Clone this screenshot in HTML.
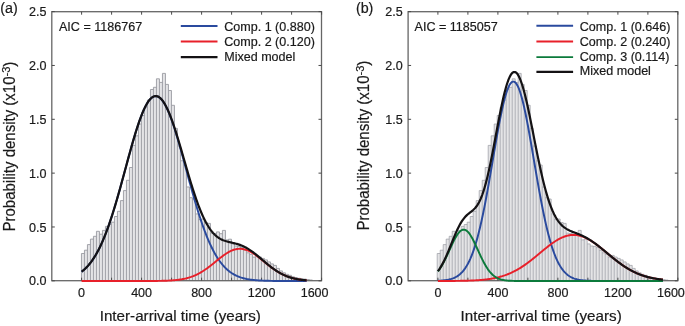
<!DOCTYPE html>
<html><head><meta charset="utf-8"><style>
html,body{margin:0;padding:0;background:#fff;}
svg{display:block;will-change:transform;}
text{font-family:"Liberation Sans",sans-serif;fill:#1a1a1a;stroke:#1a1a1a;stroke-width:0.2px;}
.t{font-size:12.55px;}
.ax{font-size:15px;}
.pl{font-size:14.3px;}
.bars rect{fill:#e4e4e6;stroke:#9c9da4;stroke-width:0.9;}
</style></head><body>
<svg width="685" height="326" viewBox="0 0 685 326">
<g class="bars"><path d="M81.45,253.50h3V280.6h-3zM84.45,250.20h3V280.6h-3zM87.45,244.60h3V280.6h-3zM90.45,239.10h3V280.6h-3zM93.45,236.30h3V280.6h-3zM96.45,231.30h3V280.6h-3zM99.45,234.20h3V280.6h-3zM102.45,230.40h3V280.6h-3zM105.45,226.40h3V280.6h-3zM108.45,224.50h3V280.6h-3zM111.45,222.20h3V280.6h-3zM114.45,216.50h3V280.6h-3zM117.45,211.30h3V280.6h-3zM120.45,200.60h3V280.6h-3zM123.45,190.60h3V280.6h-3zM126.45,180.30h3V280.6h-3zM129.45,167.50h3V280.6h-3zM132.45,145.40h3V280.6h-3zM135.45,135.80h3V280.6h-3zM138.45,124.00h3V280.6h-3zM141.45,115.50h3V280.6h-3zM144.45,107.30h3V280.6h-3zM147.45,100.00h3V280.6h-3zM150.45,89.50h3V280.6h-3zM153.45,87.30h3V280.6h-3zM156.45,78.80h3V280.6h-3zM159.45,82.40h3V280.6h-3zM162.45,73.40h3V280.6h-3zM165.45,84.40h3V280.6h-3zM168.45,90.50h3V280.6h-3zM171.45,105.30h3V280.6h-3zM174.45,128.40h3V280.6h-3zM177.45,145.98h3V280.6h-3zM180.45,160.78h3V280.6h-3zM183.45,165.00h3V280.6h-3zM186.45,186.98h3V280.6h-3zM189.45,197.71h3V280.6h-3zM192.45,199.00h3V280.6h-3zM195.45,213.93h3V280.6h-3zM198.45,219.61h3V280.6h-3zM201.45,219.00h3V280.6h-3zM204.45,222.50h3V280.6h-3zM207.45,223.40h3V280.6h-3zM210.45,233.09h3V280.6h-3zM213.45,233.50h3V280.6h-3zM216.45,231.90h3V280.6h-3zM219.45,233.70h3V280.6h-3zM222.45,230.40h3V280.6h-3zM225.45,239.90h3V280.6h-3zM228.45,239.20h3V280.6h-3zM231.45,243.90h3V280.6h-3zM234.45,246.00h3V280.6h-3zM237.45,246.40h3V280.6h-3zM240.45,247.60h3V280.6h-3zM243.45,250.30h3V280.6h-3zM246.45,252.80h3V280.6h-3zM249.45,254.30h3V280.6h-3zM252.45,257.12h3V280.6h-3zM255.45,255.40h3V280.6h-3zM258.45,257.00h3V280.6h-3zM261.45,258.40h3V280.6h-3zM264.45,259.90h3V280.6h-3zM267.45,261.90h3V280.6h-3zM270.45,263.90h3V280.6h-3zM273.45,265.40h3V280.6h-3zM276.45,268.40h3V280.6h-3zM279.45,270.90h3V280.6h-3zM282.45,272.80h3V280.6h-3zM285.45,274.30h3V280.6h-3zM288.45,275.30h3V280.6h-3zM291.45,276.80h3V280.6h-3zM294.45,277.60h3V280.6h-3zM297.45,278.30h3V280.6h-3zM300.45,278.80h3V280.6h-3zM303.45,279.10h3V280.6h-3zM306.45,279.60h3V280.6h-3zM309.45,280.00h3V280.6h-3z" fill="#e4e4e6"/>
<path d="M81.45,280.6V253.50M81.45,253.50h3M84.45,280.6V250.20M84.45,250.20h3M87.45,280.6V244.60M87.45,244.60h3M90.45,280.6V239.10M90.45,239.10h3M93.45,280.6V236.30M93.45,236.30h3M96.45,280.6V231.30M96.45,231.30h3M99.45,280.6V231.30M99.45,234.20h3M102.45,280.6V230.40M102.45,230.40h3M105.45,280.6V226.40M105.45,226.40h3M108.45,280.6V224.50M108.45,224.50h3M111.45,280.6V222.20M111.45,222.20h3M114.45,280.6V216.50M114.45,216.50h3M117.45,280.6V211.30M117.45,211.30h3M120.45,280.6V200.60M120.45,200.60h3M123.45,280.6V190.60M123.45,190.60h3M126.45,280.6V180.30M126.45,180.30h3M129.45,280.6V167.50M129.45,167.50h3M132.45,280.6V145.40M132.45,145.40h3M135.45,280.6V135.80M135.45,135.80h3M138.45,280.6V124.00M138.45,124.00h3M141.45,280.6V115.50M141.45,115.50h3M144.45,280.6V107.30M144.45,107.30h3M147.45,280.6V100.00M147.45,100.00h3M150.45,280.6V89.50M150.45,89.50h3M153.45,280.6V87.30M153.45,87.30h3M156.45,280.6V78.80M156.45,78.80h3M159.45,280.6V78.80M159.45,82.40h3M162.45,280.6V73.40M162.45,73.40h3M165.45,280.6V73.40M165.45,84.40h3M168.45,280.6V84.40M168.45,90.50h3M171.45,280.6V90.50M171.45,105.30h3M174.45,280.6V105.30M174.45,128.40h3M177.45,280.6V128.40M177.45,145.98h3M180.45,280.6V145.98M180.45,160.78h3M183.45,280.6V160.78M183.45,165.00h3M186.45,280.6V165.00M186.45,186.98h3M189.45,280.6V186.98M189.45,197.71h3M192.45,280.6V197.71M192.45,199.00h3M195.45,280.6V199.00M195.45,213.93h3M198.45,280.6V213.93M198.45,219.61h3M201.45,280.6V219.00M201.45,219.00h3M204.45,280.6V219.00M204.45,222.50h3M207.45,280.6V222.50M207.45,223.40h3M210.45,280.6V223.40M210.45,233.09h3M213.45,280.6V233.09M213.45,233.50h3M216.45,280.6V231.90M216.45,231.90h3M219.45,280.6V231.90M219.45,233.70h3M222.45,280.6V230.40M222.45,230.40h3M225.45,280.6V230.40M225.45,239.90h3M228.45,280.6V239.20M228.45,239.20h3M231.45,280.6V239.20M231.45,243.90h3M234.45,280.6V243.90M234.45,246.00h3M237.45,280.6V246.00M237.45,246.40h3M240.45,280.6V246.40M240.45,247.60h3M243.45,280.6V247.60M243.45,250.30h3M246.45,280.6V250.30M246.45,252.80h3M249.45,280.6V252.80M249.45,254.30h3M252.45,280.6V254.30M252.45,257.12h3M255.45,280.6V255.40M255.45,255.40h3M258.45,280.6V255.40M258.45,257.00h3M261.45,280.6V257.00M261.45,258.40h3M264.45,280.6V258.40M264.45,259.90h3M267.45,280.6V259.90M267.45,261.90h3M270.45,280.6V261.90M270.45,263.90h3M273.45,280.6V263.90M273.45,265.40h3M276.45,280.6V265.40M276.45,268.40h3M279.45,280.6V268.40M279.45,270.90h3M282.45,280.6V270.90M282.45,272.80h3M285.45,280.6V272.80M285.45,274.30h3M288.45,280.6V274.30M288.45,275.30h3M291.45,280.6V275.30M291.45,276.80h3M294.45,280.6V276.80M294.45,277.60h3M297.45,280.6V277.60M297.45,278.30h3M300.45,280.6V278.30M300.45,278.80h3M303.45,280.6V278.80M303.45,279.10h3M306.45,280.6V279.10M306.45,279.60h3M309.45,280.6V279.60M309.45,280.00h3M312.45,280.6V280.00" fill="none" stroke="#9a9ba2" stroke-width="0.9"/></g>
<rect x="51.8" y="11.7" width="269.7" height="269.0" fill="none" stroke="#666" stroke-width="1.3"/>
<path d="M81.60,280.7 V277.7M81.60,11.7 V14.7 M111.60,280.7 V277.7M111.60,11.7 V14.7 M141.60,280.7 V277.7M141.60,11.7 V14.7 M171.60,280.7 V277.7M171.60,11.7 V14.7 M201.60,280.7 V277.7M201.60,11.7 V14.7 M231.60,280.7 V277.7M231.60,11.7 V14.7 M261.60,280.7 V277.7M261.60,11.7 V14.7 M291.60,280.7 V277.7M291.60,11.7 V14.7 M321.60,280.7 V277.7M321.60,11.7 V14.7 M51.8,280.80 H54.8M321.5,280.80 H318.5 M51.8,226.97 H54.8M321.5,226.97 H318.5 M51.8,173.13 H54.8M321.5,173.13 H318.5 M51.8,119.30 H54.8M321.5,119.30 H318.5 M51.8,65.46 H54.8M321.5,65.46 H318.5 M51.8,11.62 H54.8M321.5,11.62 H318.5" stroke="#4a4a4a" stroke-width="1" fill="none"/>
<path d="M81.60,271.71 L82.35,271.13 L83.10,270.52 L83.85,269.89 L84.60,269.22 L85.35,268.52 L86.10,267.78 L86.85,267.01 L87.60,266.21 L88.35,265.37 L89.10,264.49 L89.85,263.57 L90.60,262.61 L91.35,261.62 L92.10,260.58 L92.85,259.49 L93.60,258.37 L94.35,257.20 L95.10,255.98 L95.85,254.72 L96.60,253.41 L97.35,252.05 L98.10,250.65 L98.85,249.20 L99.60,247.70 L100.35,246.15 L101.10,244.54 L101.85,242.89 L102.60,241.19 L103.35,239.44 L104.10,237.64 L104.85,235.78 L105.60,233.88 L106.35,231.93 L107.10,229.92 L107.85,227.87 L108.60,225.77 L109.35,223.62 L110.10,221.43 L110.85,219.18 L111.60,216.90 L112.35,214.56 L113.10,212.19 L113.85,209.78 L114.60,207.32 L115.35,204.83 L116.10,202.30 L116.85,199.74 L117.60,197.14 L118.35,194.52 L119.10,191.87 L119.85,189.19 L120.60,186.49 L121.35,183.77 L122.10,181.03 L122.85,178.28 L123.60,175.52 L124.35,172.75 L125.10,169.98 L125.85,167.20 L126.60,164.43 L127.35,161.66 L128.10,158.90 L128.85,156.16 L129.60,153.43 L130.35,150.72 L131.10,148.03 L131.85,145.38 L132.60,142.75 L133.35,140.16 L134.10,137.61 L134.85,135.10 L135.60,132.64 L136.35,130.23 L137.10,127.87 L137.85,125.58 L138.60,123.34 L139.35,121.17 L140.10,119.08 L140.85,117.05 L141.60,115.10 L142.35,113.23 L143.10,111.44 L143.85,109.74 L144.60,108.13 L145.35,106.60 L146.10,105.18 L146.85,103.85 L147.60,102.62 L148.35,101.49 L149.10,100.46 L149.85,99.54 L150.60,98.73 L151.35,98.02 L152.10,97.43 L152.85,96.94 L153.60,96.57 L154.35,96.31 L155.10,96.16 L155.85,96.13 L156.60,96.21 L157.35,96.40 L158.10,96.71 L158.85,97.12 L159.60,97.65 L160.35,98.29 L161.10,99.04 L161.85,99.90 L162.60,100.86 L163.35,101.93 L164.10,103.10 L164.85,104.37 L165.60,105.74 L166.35,107.20 L167.10,108.76 L167.85,110.41 L168.60,112.15 L169.35,113.97 L170.10,115.87 L170.85,117.85 L171.60,119.91 L172.35,122.03 L173.10,124.23 L173.85,126.49 L174.60,128.81 L175.35,131.19 L176.10,133.62 L176.85,136.10 L177.60,138.62 L178.35,141.19 L179.10,143.80 L179.85,146.44 L180.60,149.11 L181.35,151.80 L182.10,154.52 L182.85,157.25 L183.60,160.01 L184.35,162.77 L185.10,165.54 L185.85,168.31 L186.60,171.09 L187.35,173.86 L188.10,176.63 L188.85,179.39 L189.60,182.13 L190.35,184.86 L191.10,187.57 L191.85,190.26 L192.60,192.93 L193.35,195.57 L194.10,198.18 L194.85,200.77 L195.60,203.32 L196.35,205.83 L197.10,208.31 L197.85,210.75 L198.60,213.15 L199.35,215.50 L200.10,217.82 L200.85,220.09 L201.60,222.31 L202.35,224.49 L203.10,226.62 L203.85,228.70 L204.60,230.73 L205.35,232.71 L206.10,234.65 L206.85,236.53 L207.60,238.36 L208.35,240.15 L209.10,241.88 L209.85,243.56 L210.60,245.19 L211.35,246.77 L212.10,248.30 L212.85,249.78 L213.60,251.22 L214.35,252.60 L215.10,253.94 L215.85,255.23 L216.60,256.47 L217.35,257.67 L218.10,258.82 L218.85,259.93 L219.60,261.00 L220.35,262.02 L221.10,263.00 L221.85,263.94 L222.60,264.85 L223.35,265.71 L224.10,266.54 L224.85,267.33 L225.60,268.08 L226.35,268.80 L227.10,269.49 L227.85,270.14 L228.60,270.77 L229.35,271.36 L230.10,271.93 L230.85,272.47 L231.60,272.98 L232.35,273.46 L233.10,273.92 L233.85,274.36 L234.60,274.77 L235.35,275.16 L236.10,275.53 L236.85,275.88 L237.60,276.21 L238.35,276.52 L239.10,276.81 L239.85,277.09 L240.60,277.35 L241.35,277.60 L242.10,277.83 L242.85,278.05 L243.60,278.25 L244.35,278.44 L245.10,278.62 L245.85,278.79 L246.60,278.95 L247.35,279.09 L248.10,279.23 L248.85,279.36 L249.60,279.48 L250.35,279.59 L251.10,279.70 L251.85,279.80 L252.60,279.89 L253.35,279.97 L254.10,280.05 L254.85,280.13 L255.60,280.19 L256.35,280.26 L257.10,280.32 L257.85,280.37 L258.60,280.42 L259.35,280.47 L260.10,280.51 L260.85,280.55 L261.60,280.59 L262.35,280.62 L263.10,280.65 L263.85,280.68 L264.60,280.71 L265.35,280.74 L266.10,280.76 L266.85,280.78 L267.60,280.80 L268.35,280.82 L269.10,280.83 L269.85,280.85 L270.60,280.86 L271.35,280.87 L272.10,280.88 L272.85,280.90 L273.60,280.90 L274.35,280.91 L275.10,280.92 L275.85,280.93 L276.60,280.94 L277.35,280.94 L278.10,280.95 L278.85,280.95 L279.60,280.96 L280.35,280.96 L281.10,280.96 L281.85,280.97 L282.60,280.97 L283.35,280.97 L284.10,280.98 L284.85,280.98 L285.60,280.98 L286.35,280.98 L287.10,280.98 L287.85,280.99 L288.60,280.99 L289.35,280.99 L290.10,280.99 L290.85,280.99 L291.60,280.99 L292.35,280.99 L293.10,280.99 L293.85,280.99 L294.60,280.99 L295.35,281.00 L296.10,281.00 L296.85,281.00 L297.60,281.00 L298.35,281.00 L299.10,281.00 L299.85,281.00 L300.60,281.00 L301.35,281.00 L302.10,281.00 L302.85,281.00 L303.60,281.00 L304.35,281.00 L305.10,281.00 L305.85,281.00 L306.60,281.00" stroke="#2a4a9e" stroke-width="1.95" fill="none"/>
<path d="M81.60,281.00 L82.35,281.00 L83.10,281.00 L83.85,281.00 L84.60,281.00 L85.35,281.00 L86.10,281.00 L86.85,281.00 L87.60,281.00 L88.35,281.00 L89.10,281.00 L89.85,281.00 L90.60,281.00 L91.35,281.00 L92.10,281.00 L92.85,281.00 L93.60,281.00 L94.35,281.00 L95.10,281.00 L95.85,281.00 L96.60,281.00 L97.35,281.00 L98.10,281.00 L98.85,281.00 L99.60,281.00 L100.35,281.00 L101.10,281.00 L101.85,281.00 L102.60,281.00 L103.35,281.00 L104.10,281.00 L104.85,281.00 L105.60,281.00 L106.35,281.00 L107.10,281.00 L107.85,281.00 L108.60,281.00 L109.35,281.00 L110.10,281.00 L110.85,281.00 L111.60,281.00 L112.35,281.00 L113.10,281.00 L113.85,281.00 L114.60,281.00 L115.35,281.00 L116.10,281.00 L116.85,281.00 L117.60,281.00 L118.35,281.00 L119.10,281.00 L119.85,281.00 L120.60,281.00 L121.35,281.00 L122.10,281.00 L122.85,281.00 L123.60,281.00 L124.35,281.00 L125.10,281.00 L125.85,281.00 L126.60,281.00 L127.35,281.00 L128.10,281.00 L128.85,281.00 L129.60,281.00 L130.35,281.00 L131.10,281.00 L131.85,281.00 L132.60,281.00 L133.35,281.00 L134.10,281.00 L134.85,281.00 L135.60,281.00 L136.35,281.00 L137.10,281.00 L137.85,281.00 L138.60,281.00 L139.35,280.99 L140.10,280.99 L140.85,280.99 L141.60,280.99 L142.35,280.99 L143.10,280.99 L143.85,280.99 L144.60,280.99 L145.35,280.99 L146.10,280.98 L146.85,280.98 L147.60,280.98 L148.35,280.98 L149.10,280.97 L149.85,280.97 L150.60,280.97 L151.35,280.96 L152.10,280.96 L152.85,280.95 L153.60,280.95 L154.35,280.94 L155.10,280.94 L155.85,280.93 L156.60,280.92 L157.35,280.91 L158.10,280.90 L158.85,280.89 L159.60,280.88 L160.35,280.87 L161.10,280.85 L161.85,280.84 L162.60,280.82 L163.35,280.80 L164.10,280.78 L164.85,280.76 L165.60,280.73 L166.35,280.70 L167.10,280.67 L167.85,280.64 L168.60,280.61 L169.35,280.57 L170.10,280.53 L170.85,280.48 L171.60,280.44 L172.35,280.38 L173.10,280.33 L173.85,280.27 L174.60,280.20 L175.35,280.13 L176.10,280.05 L176.85,279.97 L177.60,279.89 L178.35,279.79 L179.10,279.69 L179.85,279.58 L180.60,279.47 L181.35,279.35 L182.10,279.22 L182.85,279.08 L183.60,278.93 L184.35,278.78 L185.10,278.61 L185.85,278.44 L186.60,278.25 L187.35,278.06 L188.10,277.85 L188.85,277.63 L189.60,277.40 L190.35,277.16 L191.10,276.91 L191.85,276.64 L192.60,276.36 L193.35,276.07 L194.10,275.76 L194.85,275.45 L195.60,275.11 L196.35,274.77 L197.10,274.41 L197.85,274.03 L198.60,273.64 L199.35,273.24 L200.10,272.83 L200.85,272.40 L201.60,271.95 L202.35,271.50 L203.10,271.02 L203.85,270.54 L204.60,270.04 L205.35,269.54 L206.10,269.01 L206.85,268.48 L207.60,267.94 L208.35,267.39 L209.10,266.82 L209.85,266.25 L210.60,265.67 L211.35,265.08 L212.10,264.49 L212.85,263.89 L213.60,263.29 L214.35,262.68 L215.10,262.07 L215.85,261.46 L216.60,260.85 L217.35,260.24 L218.10,259.63 L218.85,259.03 L219.60,258.43 L220.35,257.84 L221.10,257.26 L221.85,256.68 L222.60,256.12 L223.35,255.57 L224.10,255.03 L224.85,254.50 L225.60,253.99 L226.35,253.50 L227.10,253.02 L227.85,252.57 L228.60,252.14 L229.35,251.72 L230.10,251.34 L230.85,250.97 L231.60,250.63 L232.35,250.32 L233.10,250.03 L233.85,249.78 L234.60,249.55 L235.35,249.35 L236.10,249.18 L236.85,249.04 L237.60,248.93 L238.35,248.85 L239.10,248.80 L239.85,248.78 L240.60,248.80 L241.35,248.85 L242.10,248.93 L242.85,249.04 L243.60,249.18 L244.35,249.35 L245.10,249.55 L245.85,249.78 L246.60,250.03 L247.35,250.32 L248.10,250.63 L248.85,250.97 L249.60,251.34 L250.35,251.72 L251.10,252.14 L251.85,252.57 L252.60,253.02 L253.35,253.50 L254.10,253.99 L254.85,254.50 L255.60,255.03 L256.35,255.57 L257.10,256.12 L257.85,256.68 L258.60,257.26 L259.35,257.84 L260.10,258.43 L260.85,259.03 L261.60,259.63 L262.35,260.24 L263.10,260.85 L263.85,261.46 L264.60,262.07 L265.35,262.68 L266.10,263.29 L266.85,263.89 L267.60,264.49 L268.35,265.08 L269.10,265.67 L269.85,266.25 L270.60,266.82 L271.35,267.39 L272.10,267.94 L272.85,268.48 L273.60,269.01 L274.35,269.54 L275.10,270.04 L275.85,270.54 L276.60,271.02 L277.35,271.50 L278.10,271.95 L278.85,272.40 L279.60,272.83 L280.35,273.24 L281.10,273.64 L281.85,274.03 L282.60,274.41 L283.35,274.77 L284.10,275.11 L284.85,275.45 L285.60,275.76 L286.35,276.07 L287.10,276.36 L287.85,276.64 L288.60,276.91 L289.35,277.16 L290.10,277.40 L290.85,277.63 L291.60,277.85 L292.35,278.06 L293.10,278.25 L293.85,278.44 L294.60,278.61 L295.35,278.78 L296.10,278.93 L296.85,279.08 L297.60,279.22 L298.35,279.35 L299.10,279.47 L299.85,279.58 L300.60,279.69 L301.35,279.79 L302.10,279.89 L302.85,279.97 L303.60,280.05 L304.35,280.13 L305.10,280.20 L305.85,280.27 L306.60,280.33" stroke="#e8202a" stroke-width="1.95" fill="none"/>
<path d="M81.60,271.71 L82.35,271.13 L83.10,270.52 L83.85,269.89 L84.60,269.22 L85.35,268.52 L86.10,267.78 L86.85,267.01 L87.60,266.21 L88.35,265.37 L89.10,264.49 L89.85,263.57 L90.60,262.61 L91.35,261.62 L92.10,260.58 L92.85,259.49 L93.60,258.37 L94.35,257.20 L95.10,255.98 L95.85,254.72 L96.60,253.41 L97.35,252.05 L98.10,250.65 L98.85,249.20 L99.60,247.70 L100.35,246.15 L101.10,244.54 L101.85,242.89 L102.60,241.19 L103.35,239.44 L104.10,237.64 L104.85,235.78 L105.60,233.88 L106.35,231.93 L107.10,229.92 L107.85,227.87 L108.60,225.77 L109.35,223.62 L110.10,221.43 L110.85,219.18 L111.60,216.90 L112.35,214.56 L113.10,212.19 L113.85,209.78 L114.60,207.32 L115.35,204.83 L116.10,202.30 L116.85,199.74 L117.60,197.14 L118.35,194.52 L119.10,191.87 L119.85,189.19 L120.60,186.49 L121.35,183.77 L122.10,181.03 L122.85,178.28 L123.60,175.52 L124.35,172.75 L125.10,169.98 L125.85,167.20 L126.60,164.43 L127.35,161.66 L128.10,158.90 L128.85,156.16 L129.60,153.43 L130.35,150.72 L131.10,148.03 L131.85,145.38 L132.60,142.75 L133.35,140.16 L134.10,137.61 L134.85,135.10 L135.60,132.64 L136.35,130.23 L137.10,127.87 L137.85,125.57 L138.60,123.34 L139.35,121.17 L140.10,119.07 L140.85,117.04 L141.60,115.09 L142.35,113.22 L143.10,111.43 L143.85,109.73 L144.60,108.11 L145.35,106.59 L146.10,105.16 L146.85,103.83 L147.60,102.60 L148.35,101.46 L149.10,100.44 L149.85,99.51 L150.60,98.70 L151.35,97.99 L152.10,97.39 L152.85,96.90 L153.60,96.52 L154.35,96.25 L155.10,96.10 L155.85,96.06 L156.60,96.13 L157.35,96.31 L158.10,96.61 L158.85,97.02 L159.60,97.53 L160.35,98.16 L161.10,98.89 L161.85,99.73 L162.60,100.68 L163.35,101.73 L164.10,102.88 L164.85,104.12 L165.60,105.47 L166.35,106.91 L167.10,108.43 L167.85,110.05 L168.60,111.75 L169.35,113.54 L170.10,115.40 L170.85,117.33 L171.60,119.34 L172.35,121.42 L173.10,123.56 L173.85,125.76 L174.60,128.01 L175.35,130.32 L176.10,132.67 L176.85,135.07 L177.60,137.51 L178.35,139.98 L179.10,142.49 L179.85,145.02 L180.60,147.58 L181.35,150.15 L182.10,152.74 L182.85,155.34 L183.60,157.94 L184.35,160.55 L185.10,163.15 L185.85,165.75 L186.60,168.34 L187.35,170.92 L188.10,173.48 L188.85,176.02 L189.60,178.53 L190.35,181.02 L191.10,183.48 L191.85,185.90 L192.60,188.29 L193.35,190.64 L194.10,192.95 L194.85,195.21 L195.60,197.43 L196.35,199.60 L197.10,201.71 L197.85,203.78 L198.60,205.79 L199.35,207.75 L200.10,209.64 L200.85,211.48 L201.60,213.26 L202.35,214.98 L203.10,216.64 L203.85,218.24 L204.60,219.78 L205.35,221.25 L206.10,222.66 L206.85,224.01 L207.60,225.30 L208.35,226.53 L209.10,227.70 L209.85,228.81 L210.60,229.86 L211.35,230.85 L212.10,231.79 L212.85,232.68 L213.60,233.50 L214.35,234.28 L215.10,235.01 L215.85,235.69 L216.60,236.32 L217.35,236.91 L218.10,237.46 L218.85,237.96 L219.60,238.43 L220.35,238.86 L221.10,239.26 L221.85,239.63 L222.60,239.96 L223.35,240.27 L224.10,240.56 L224.85,240.83 L225.60,241.07 L226.35,241.30 L227.10,241.51 L227.85,241.71 L228.60,241.91 L229.35,242.09 L230.10,242.27 L230.85,242.44 L231.60,242.61 L232.35,242.78 L233.10,242.96 L233.85,243.13 L234.60,243.32 L235.35,243.51 L236.10,243.71 L236.85,243.91 L237.60,244.14 L238.35,244.37 L239.10,244.61 L239.85,244.88 L240.60,245.15 L241.35,245.44 L242.10,245.75 L242.85,246.08 L243.60,246.42 L244.35,246.79 L245.10,247.17 L245.85,247.56 L246.60,247.98 L247.35,248.41 L248.10,248.86 L248.85,249.33 L249.60,249.82 L250.35,250.32 L251.10,250.84 L251.85,251.37 L252.60,251.91 L253.35,252.47 L254.10,253.04 L254.85,253.63 L255.60,254.22 L256.35,254.82 L257.10,255.43 L257.85,256.05 L258.60,256.68 L259.35,257.31 L260.10,257.94 L260.85,258.58 L261.60,259.22 L262.35,259.86 L263.10,260.50 L263.85,261.14 L264.60,261.78 L265.35,262.41 L266.10,263.04 L266.85,263.67 L267.60,264.29 L268.35,264.90 L269.10,265.50 L269.85,266.10 L270.60,266.68 L271.35,267.26 L272.10,267.82 L272.85,268.38 L273.60,268.92 L274.35,269.45 L275.10,269.97 L275.85,270.47 L276.60,270.96 L277.35,271.44 L278.10,271.90 L278.85,272.35 L279.60,272.78 L280.35,273.20 L281.10,273.61 L281.85,274.00 L282.60,274.38 L283.35,274.74 L284.10,275.09 L284.85,275.42 L285.60,275.75 L286.35,276.05 L287.10,276.35 L287.85,276.63 L288.60,276.89 L289.35,277.15 L290.10,277.39 L290.85,277.62 L291.60,277.84 L292.35,278.05 L293.10,278.25 L293.85,278.43 L294.60,278.61 L295.35,278.77 L296.10,278.93 L296.85,279.08 L297.60,279.22 L298.35,279.35 L299.10,279.47 L299.85,279.58 L300.60,279.69 L301.35,279.79 L302.10,279.88 L302.85,279.97 L303.60,280.05 L304.35,280.13 L305.10,280.20 L305.85,280.26 L306.60,280.33" stroke="#141214" stroke-width="2.2" fill="none"/>
<text transform="translate(81.60,297.20) scale(1,1.02)" class="t" text-anchor="middle">0</text>
<text transform="translate(141.60,297.20) scale(1,1.02)" class="t" text-anchor="middle">400</text>
<text transform="translate(201.60,297.20) scale(1,1.02)" class="t" text-anchor="middle">800</text>
<text transform="translate(261.60,297.20) scale(1,1.02)" class="t" text-anchor="middle">1200</text>
<text transform="translate(314.60,297.20) scale(1,1.02)" class="t" text-anchor="middle">1600</text>
<text transform="translate(46.50,285.40) scale(1,1.04)" class="t" text-anchor="end">0.0</text>
<text transform="translate(46.50,231.56) scale(1,1.04)" class="t" text-anchor="end">0.5</text>
<text transform="translate(46.50,177.73) scale(1,1.04)" class="t" text-anchor="end">1.0</text>
<text transform="translate(46.50,123.90) scale(1,1.04)" class="t" text-anchor="end">1.5</text>
<text transform="translate(46.50,70.06) scale(1,1.04)" class="t" text-anchor="end">2.0</text>
<text transform="translate(46.50,16.23) scale(1,1.04)" class="t" text-anchor="end">2.5</text>
<text transform="translate(0.30,12.60) scale(1,1.04)" class="pl">(a)</text>
<text transform="translate(59.00,30.60) scale(1,1.04)" class="t">AIC = 1186767</text>
<path d="M180.80,25.9 H217.50" stroke="#2a4a9e" stroke-width="1.95"/>
<text transform="translate(224.20,30.60) scale(1,1.04)" class="t">Comp. 1 (0.880)</text>
<path d="M180.80,41.5 H217.50" stroke="#e8202a" stroke-width="1.95"/>
<text transform="translate(224.20,46.10) scale(1,1.04)" class="t">Comp. 2 (0.120)</text>
<path d="M180.80,57.1 H217.50" stroke="#141214" stroke-width="2.2"/>
<text transform="translate(224.20,60.70) scale(1,1.04)" class="t">Mixed model</text>
<text transform="translate(99.70,321.00) scale(1,1.02)" class="ax" style="font-size:15.2px">Inter-arrival time (years)</text>
<text transform="translate(14.5,146.6) rotate(-90) scale(1,1.04)" text-anchor="middle" class="ax">Probability density (x10<tspan dy="-4.3" font-size="11">-3</tspan><tspan dy="4.3">)</tspan></text>
<g class="bars"><path d="M437.20,253.50h3V280.6h-3zM440.20,250.20h3V280.6h-3zM443.20,244.60h3V280.6h-3zM446.20,239.10h3V280.6h-3zM449.20,236.30h3V280.6h-3zM452.20,231.30h3V280.6h-3zM455.20,234.20h3V280.6h-3zM458.20,230.40h3V280.6h-3zM461.20,226.40h3V280.6h-3zM464.20,224.50h3V280.6h-3zM467.20,222.20h3V280.6h-3zM470.20,216.50h3V280.6h-3zM473.20,211.30h3V280.6h-3zM476.20,200.60h3V280.6h-3zM479.20,190.60h3V280.6h-3zM482.20,180.30h3V280.6h-3zM485.20,167.50h3V280.6h-3zM488.20,145.40h3V280.6h-3zM491.20,135.80h3V280.6h-3zM494.20,124.00h3V280.6h-3zM497.20,115.50h3V280.6h-3zM500.20,107.30h3V280.6h-3zM503.20,100.00h3V280.6h-3zM506.20,89.50h3V280.6h-3zM509.20,87.30h3V280.6h-3zM512.20,78.80h3V280.6h-3zM515.20,82.40h3V280.6h-3zM518.20,73.40h3V280.6h-3zM521.20,84.40h3V280.6h-3zM524.20,90.50h3V280.6h-3zM527.20,105.30h3V280.6h-3zM530.20,128.40h3V280.6h-3zM533.20,145.98h3V280.6h-3zM536.20,160.78h3V280.6h-3zM539.20,165.00h3V280.6h-3zM542.20,186.98h3V280.6h-3zM545.20,197.71h3V280.6h-3zM548.20,199.00h3V280.6h-3zM551.20,213.93h3V280.6h-3zM554.20,219.61h3V280.6h-3zM557.20,219.00h3V280.6h-3zM560.20,222.50h3V280.6h-3zM563.20,223.40h3V280.6h-3zM566.20,233.09h3V280.6h-3zM569.20,233.50h3V280.6h-3zM572.20,231.90h3V280.6h-3zM575.20,233.70h3V280.6h-3zM578.20,230.40h3V280.6h-3zM581.20,239.90h3V280.6h-3zM584.20,239.20h3V280.6h-3zM587.20,243.90h3V280.6h-3zM590.20,246.00h3V280.6h-3zM593.20,246.40h3V280.6h-3zM596.20,247.60h3V280.6h-3zM599.20,250.30h3V280.6h-3zM602.20,252.80h3V280.6h-3zM605.20,254.30h3V280.6h-3zM608.20,257.12h3V280.6h-3zM611.20,255.40h3V280.6h-3zM614.20,257.00h3V280.6h-3zM617.20,258.40h3V280.6h-3zM620.20,259.90h3V280.6h-3zM623.20,261.90h3V280.6h-3zM626.20,263.90h3V280.6h-3zM629.20,265.40h3V280.6h-3zM632.20,268.40h3V280.6h-3zM635.20,270.90h3V280.6h-3zM638.20,272.80h3V280.6h-3zM641.20,274.30h3V280.6h-3zM644.20,275.30h3V280.6h-3zM647.20,276.80h3V280.6h-3zM650.20,277.60h3V280.6h-3zM653.20,278.30h3V280.6h-3zM656.20,278.80h3V280.6h-3zM659.20,279.10h3V280.6h-3zM662.20,279.60h3V280.6h-3zM665.20,280.00h3V280.6h-3z" fill="#e4e4e6"/>
<path d="M437.20,280.6V253.50M437.20,253.50h3M440.20,280.6V250.20M440.20,250.20h3M443.20,280.6V244.60M443.20,244.60h3M446.20,280.6V239.10M446.20,239.10h3M449.20,280.6V236.30M449.20,236.30h3M452.20,280.6V231.30M452.20,231.30h3M455.20,280.6V231.30M455.20,234.20h3M458.20,280.6V230.40M458.20,230.40h3M461.20,280.6V226.40M461.20,226.40h3M464.20,280.6V224.50M464.20,224.50h3M467.20,280.6V222.20M467.20,222.20h3M470.20,280.6V216.50M470.20,216.50h3M473.20,280.6V211.30M473.20,211.30h3M476.20,280.6V200.60M476.20,200.60h3M479.20,280.6V190.60M479.20,190.60h3M482.20,280.6V180.30M482.20,180.30h3M485.20,280.6V167.50M485.20,167.50h3M488.20,280.6V145.40M488.20,145.40h3M491.20,280.6V135.80M491.20,135.80h3M494.20,280.6V124.00M494.20,124.00h3M497.20,280.6V115.50M497.20,115.50h3M500.20,280.6V107.30M500.20,107.30h3M503.20,280.6V100.00M503.20,100.00h3M506.20,280.6V89.50M506.20,89.50h3M509.20,280.6V87.30M509.20,87.30h3M512.20,280.6V78.80M512.20,78.80h3M515.20,280.6V78.80M515.20,82.40h3M518.20,280.6V73.40M518.20,73.40h3M521.20,280.6V73.40M521.20,84.40h3M524.20,280.6V84.40M524.20,90.50h3M527.20,280.6V90.50M527.20,105.30h3M530.20,280.6V105.30M530.20,128.40h3M533.20,280.6V128.40M533.20,145.98h3M536.20,280.6V145.98M536.20,160.78h3M539.20,280.6V160.78M539.20,165.00h3M542.20,280.6V165.00M542.20,186.98h3M545.20,280.6V186.98M545.20,197.71h3M548.20,280.6V197.71M548.20,199.00h3M551.20,280.6V199.00M551.20,213.93h3M554.20,280.6V213.93M554.20,219.61h3M557.20,280.6V219.00M557.20,219.00h3M560.20,280.6V219.00M560.20,222.50h3M563.20,280.6V222.50M563.20,223.40h3M566.20,280.6V223.40M566.20,233.09h3M569.20,280.6V233.09M569.20,233.50h3M572.20,280.6V231.90M572.20,231.90h3M575.20,280.6V231.90M575.20,233.70h3M578.20,280.6V230.40M578.20,230.40h3M581.20,280.6V230.40M581.20,239.90h3M584.20,280.6V239.20M584.20,239.20h3M587.20,280.6V239.20M587.20,243.90h3M590.20,280.6V243.90M590.20,246.00h3M593.20,280.6V246.00M593.20,246.40h3M596.20,280.6V246.40M596.20,247.60h3M599.20,280.6V247.60M599.20,250.30h3M602.20,280.6V250.30M602.20,252.80h3M605.20,280.6V252.80M605.20,254.30h3M608.20,280.6V254.30M608.20,257.12h3M611.20,280.6V255.40M611.20,255.40h3M614.20,280.6V255.40M614.20,257.00h3M617.20,280.6V257.00M617.20,258.40h3M620.20,280.6V258.40M620.20,259.90h3M623.20,280.6V259.90M623.20,261.90h3M626.20,280.6V261.90M626.20,263.90h3M629.20,280.6V263.90M629.20,265.40h3M632.20,280.6V265.40M632.20,268.40h3M635.20,280.6V268.40M635.20,270.90h3M638.20,280.6V270.90M638.20,272.80h3M641.20,280.6V272.80M641.20,274.30h3M644.20,280.6V274.30M644.20,275.30h3M647.20,280.6V275.30M647.20,276.80h3M650.20,280.6V276.80M650.20,277.60h3M653.20,280.6V277.60M653.20,278.30h3M656.20,280.6V278.30M656.20,278.80h3M659.20,280.6V278.80M659.20,279.10h3M662.20,280.6V279.10M662.20,279.60h3M665.20,280.6V279.60M665.20,280.00h3M668.20,280.6V280.00" fill="none" stroke="#9a9ba2" stroke-width="0.7"/></g>
<rect x="408.1" y="11.7" width="269.69999999999993" height="269.0" fill="none" stroke="#666" stroke-width="1.3"/>
<path d="M437.90,280.7 V277.7M437.90,11.7 V14.7 M467.90,280.7 V277.7M467.90,11.7 V14.7 M497.90,280.7 V277.7M497.90,11.7 V14.7 M527.90,280.7 V277.7M527.90,11.7 V14.7 M557.90,280.7 V277.7M557.90,11.7 V14.7 M587.90,280.7 V277.7M587.90,11.7 V14.7 M617.90,280.7 V277.7M617.90,11.7 V14.7 M647.90,280.7 V277.7M647.90,11.7 V14.7 M677.90,280.7 V277.7M677.90,11.7 V14.7 M408.1,280.80 H411.1M677.8,280.80 H674.8 M408.1,226.97 H411.1M677.8,226.97 H674.8 M408.1,173.13 H411.1M677.8,173.13 H674.8 M408.1,119.30 H411.1M677.8,119.30 H674.8 M408.1,65.46 H411.1M677.8,65.46 H674.8 M408.1,11.62 H411.1M677.8,11.62 H674.8" stroke="#4a4a4a" stroke-width="1" fill="none"/>
<path d="M437.90,280.76 L438.65,280.73 L439.40,280.69 L440.15,280.65 L440.90,280.60 L441.65,280.55 L442.40,280.49 L443.15,280.42 L443.90,280.34 L444.65,280.25 L445.40,280.16 L446.15,280.05 L446.90,279.93 L447.65,279.80 L448.40,279.65 L449.15,279.49 L449.90,279.30 L450.65,279.10 L451.40,278.88 L452.15,278.63 L452.90,278.37 L453.65,278.07 L454.40,277.74 L455.15,277.39 L455.90,276.99 L456.65,276.57 L457.40,276.10 L458.15,275.59 L458.90,275.04 L459.65,274.44 L460.40,273.79 L461.15,273.08 L461.90,272.32 L462.65,271.49 L463.40,270.61 L464.15,269.65 L464.90,268.62 L465.65,267.52 L466.40,266.33 L467.15,265.07 L467.90,263.72 L468.65,262.28 L469.40,260.75 L470.15,259.12 L470.90,257.39 L471.65,255.55 L472.40,253.62 L473.15,251.57 L473.90,249.41 L474.65,247.14 L475.40,244.76 L476.15,242.26 L476.90,239.64 L477.65,236.90 L478.40,234.05 L479.15,231.08 L479.90,227.98 L480.65,224.78 L481.40,221.45 L482.15,218.02 L482.90,214.48 L483.65,210.83 L484.40,207.08 L485.15,203.23 L485.90,199.29 L486.65,195.26 L487.40,191.16 L488.15,186.98 L488.90,182.75 L489.65,178.45 L490.40,174.12 L491.15,169.74 L491.90,165.35 L492.65,160.94 L493.40,156.52 L494.15,152.12 L494.90,147.74 L495.65,143.39 L496.40,139.09 L497.15,134.85 L497.90,130.69 L498.65,126.61 L499.40,122.63 L500.15,118.76 L500.90,115.03 L501.65,111.43 L502.40,107.98 L503.15,104.70 L503.90,101.60 L504.65,98.69 L505.40,95.97 L506.15,93.46 L506.90,91.18 L507.65,89.12 L508.40,87.29 L509.15,85.71 L509.90,84.38 L510.65,83.31 L511.40,82.49 L512.15,81.93 L512.90,81.64 L513.65,81.61 L514.40,81.85 L515.15,82.36 L515.90,83.12 L516.65,84.15 L517.40,85.43 L518.15,86.96 L518.90,88.73 L519.65,90.75 L520.40,92.99 L521.15,95.45 L521.90,98.13 L522.65,101.00 L523.40,104.07 L524.15,107.31 L524.90,110.73 L525.65,114.30 L526.40,118.01 L527.15,121.85 L527.90,125.80 L528.65,129.86 L529.40,134.01 L530.15,138.24 L530.90,142.53 L531.65,146.87 L532.40,151.24 L533.15,155.64 L533.90,160.05 L534.65,164.47 L535.40,168.87 L536.15,173.24 L536.90,177.59 L537.65,181.89 L538.40,186.14 L539.15,190.33 L539.90,194.45 L540.65,198.49 L541.40,202.45 L542.15,206.31 L542.90,210.08 L543.65,213.75 L544.40,217.32 L545.15,220.78 L545.90,224.12 L546.65,227.35 L547.40,230.47 L548.15,233.46 L548.90,236.34 L549.65,239.10 L550.40,241.74 L551.15,244.27 L551.90,246.68 L552.65,248.97 L553.40,251.15 L554.15,253.22 L554.90,255.18 L555.65,257.03 L556.40,258.78 L557.15,260.43 L557.90,261.98 L558.65,263.44 L559.40,264.81 L560.15,266.09 L560.90,267.29 L561.65,268.41 L562.40,269.45 L563.15,270.42 L563.90,271.32 L564.65,272.16 L565.40,272.93 L566.15,273.65 L566.90,274.31 L567.65,274.92 L568.40,275.49 L569.15,276.00 L569.90,276.48 L570.65,276.91 L571.40,277.31 L572.15,277.67 L572.90,278.01 L573.65,278.31 L574.40,278.58 L575.15,278.83 L575.90,279.06 L576.65,279.26 L577.40,279.45 L578.15,279.62 L578.90,279.77 L579.65,279.90 L580.40,280.03 L581.15,280.14 L581.90,280.24 L582.65,280.32 L583.40,280.40 L584.15,280.47 L584.90,280.54 L585.65,280.59 L586.40,280.64 L587.15,280.68 L587.90,280.72 L588.65,280.76 L589.40,280.79 L590.15,280.82 L590.90,280.84 L591.65,280.86 L592.40,280.88 L593.15,280.89 L593.90,280.91 L594.65,280.92 L595.40,280.93 L596.15,280.94 L596.90,280.95 L597.65,280.96 L598.40,280.96 L599.15,280.97 L599.90,280.97 L600.65,280.98 L601.40,280.98 L602.15,280.98 L602.90,280.98 L603.65,280.99 L604.40,280.99 L605.15,280.99 L605.90,280.99 L606.65,280.99 L607.40,280.99 L608.15,281.00 L608.90,281.00 L609.65,281.00 L610.40,281.00 L611.15,281.00 L611.90,281.00 L612.65,281.00 L613.40,281.00 L614.15,281.00 L614.90,281.00 L615.65,281.00 L616.40,281.00 L617.15,281.00 L617.90,281.00 L618.65,281.00 L619.40,281.00 L620.15,281.00 L620.90,281.00 L621.65,281.00 L622.40,281.00 L623.15,281.00 L623.90,281.00 L624.65,281.00 L625.40,281.00 L626.15,281.00 L626.90,281.00 L627.65,281.00 L628.40,281.00 L629.15,281.00 L629.90,281.00 L630.65,281.00 L631.40,281.00 L632.15,281.00 L632.90,281.00 L633.65,281.00 L634.40,281.00 L635.15,281.00 L635.90,281.00 L636.65,281.00 L637.40,281.00 L638.15,281.00 L638.90,281.00 L639.65,281.00 L640.40,281.00 L641.15,281.00 L641.90,281.00 L642.65,281.00 L643.40,281.00 L644.15,281.00 L644.90,281.00 L645.65,281.00 L646.40,281.00 L647.15,281.00 L647.90,281.00 L648.65,281.00 L649.40,281.00 L650.15,281.00 L650.90,281.00 L651.65,281.00 L652.40,281.00 L653.15,281.00 L653.90,281.00 L654.65,281.00 L655.40,281.00 L656.15,281.00 L656.90,281.00 L657.65,281.00 L658.40,281.00 L659.15,281.00 L659.90,281.00 L660.65,281.00 L661.40,281.00 L662.15,281.00 L662.90,281.00" stroke="#2a4a9e" stroke-width="1.95" fill="none"/>
<path d="M437.90,280.99 L438.65,280.99 L439.40,280.98 L440.15,280.98 L440.90,280.98 L441.65,280.98 L442.40,280.98 L443.15,280.98 L443.90,280.97 L444.65,280.97 L445.40,280.97 L446.15,280.97 L446.90,280.96 L447.65,280.96 L448.40,280.96 L449.15,280.95 L449.90,280.95 L450.65,280.94 L451.40,280.94 L452.15,280.93 L452.90,280.93 L453.65,280.92 L454.40,280.92 L455.15,280.91 L455.90,280.90 L456.65,280.89 L457.40,280.88 L458.15,280.87 L458.90,280.86 L459.65,280.85 L460.40,280.84 L461.15,280.83 L461.90,280.82 L462.65,280.80 L463.40,280.79 L464.15,280.77 L464.90,280.76 L465.65,280.74 L466.40,280.72 L467.15,280.70 L467.90,280.67 L468.65,280.65 L469.40,280.63 L470.15,280.60 L470.90,280.57 L471.65,280.54 L472.40,280.51 L473.15,280.47 L473.90,280.44 L474.65,280.40 L475.40,280.36 L476.15,280.31 L476.90,280.27 L477.65,280.22 L478.40,280.17 L479.15,280.12 L479.90,280.06 L480.65,280.00 L481.40,279.93 L482.15,279.87 L482.90,279.80 L483.65,279.72 L484.40,279.64 L485.15,279.56 L485.90,279.47 L486.65,279.38 L487.40,279.29 L488.15,279.19 L488.90,279.08 L489.65,278.97 L490.40,278.85 L491.15,278.73 L491.90,278.60 L492.65,278.47 L493.40,278.33 L494.15,278.19 L494.90,278.03 L495.65,277.88 L496.40,277.71 L497.15,277.54 L497.90,277.36 L498.65,277.17 L499.40,276.98 L500.15,276.77 L500.90,276.56 L501.65,276.34 L502.40,276.12 L503.15,275.88 L503.90,275.64 L504.65,275.39 L505.40,275.12 L506.15,274.85 L506.90,274.57 L507.65,274.28 L508.40,273.98 L509.15,273.67 L509.90,273.35 L510.65,273.02 L511.40,272.69 L512.15,272.34 L512.90,271.98 L513.65,271.61 L514.40,271.23 L515.15,270.84 L515.90,270.44 L516.65,270.03 L517.40,269.61 L518.15,269.18 L518.90,268.74 L519.65,268.29 L520.40,267.82 L521.15,267.35 L521.90,266.87 L522.65,266.38 L523.40,265.88 L524.15,265.37 L524.90,264.86 L525.65,264.33 L526.40,263.79 L527.15,263.25 L527.90,262.70 L528.65,262.14 L529.40,261.57 L530.15,261.00 L530.90,260.41 L531.65,259.83 L532.40,259.23 L533.15,258.64 L533.90,258.03 L534.65,257.42 L535.40,256.81 L536.15,256.20 L536.90,255.58 L537.65,254.96 L538.40,254.33 L539.15,253.71 L539.90,253.09 L540.65,252.46 L541.40,251.84 L542.15,251.21 L542.90,250.59 L543.65,249.98 L544.40,249.36 L545.15,248.75 L545.90,248.14 L546.65,247.54 L547.40,246.95 L548.15,246.36 L548.90,245.78 L549.65,245.20 L550.40,244.64 L551.15,244.08 L551.90,243.54 L552.65,243.01 L553.40,242.48 L554.15,241.98 L554.90,241.48 L555.65,241.00 L556.40,240.53 L557.15,240.07 L557.90,239.64 L558.65,239.22 L559.40,238.81 L560.15,238.42 L560.90,238.05 L561.65,237.70 L562.40,237.37 L563.15,237.06 L563.90,236.76 L564.65,236.49 L565.40,236.24 L566.15,236.01 L566.90,235.80 L567.65,235.61 L568.40,235.45 L569.15,235.30 L569.90,235.18 L570.65,235.08 L571.40,235.01 L572.15,234.95 L572.90,234.92 L573.65,234.92 L574.40,234.93 L575.15,234.97 L575.90,235.03 L576.65,235.12 L577.40,235.23 L578.15,235.36 L578.90,235.51 L579.65,235.68 L580.40,235.88 L581.15,236.10 L581.90,236.34 L582.65,236.60 L583.40,236.88 L584.15,237.18 L584.90,237.50 L585.65,237.84 L586.40,238.20 L587.15,238.58 L587.90,238.97 L588.65,239.38 L589.40,239.81 L590.15,240.25 L590.90,240.71 L591.65,241.19 L592.40,241.68 L593.15,242.18 L593.90,242.69 L594.65,243.22 L595.40,243.76 L596.15,244.30 L596.90,244.86 L597.65,245.43 L598.40,246.01 L599.15,246.59 L599.90,247.18 L600.65,247.78 L601.40,248.38 L602.15,248.99 L602.90,249.61 L603.65,250.22 L604.40,250.84 L605.15,251.46 L605.90,252.09 L606.65,252.71 L607.40,253.34 L608.15,253.96 L608.90,254.58 L609.65,255.21 L610.40,255.83 L611.15,256.44 L611.90,257.06 L612.65,257.67 L613.40,258.27 L614.15,258.88 L614.90,259.47 L615.65,260.06 L616.40,260.65 L617.15,261.23 L617.90,261.80 L618.65,262.36 L619.40,262.92 L620.15,263.47 L620.90,264.01 L621.65,264.54 L622.40,265.06 L623.15,265.58 L623.90,266.08 L624.65,266.58 L625.40,267.07 L626.15,267.54 L626.90,268.01 L627.65,268.47 L628.40,268.91 L629.15,269.35 L629.90,269.78 L630.65,270.19 L631.40,270.60 L632.15,271.00 L632.90,271.38 L633.65,271.76 L634.40,272.12 L635.15,272.48 L635.90,272.82 L636.65,273.16 L637.40,273.48 L638.15,273.80 L638.90,274.10 L639.65,274.40 L640.40,274.68 L641.15,274.96 L641.90,275.23 L642.65,275.49 L643.40,275.74 L644.15,275.98 L644.90,276.21 L645.65,276.43 L646.40,276.65 L647.15,276.86 L647.90,277.06 L648.65,277.25 L649.40,277.43 L650.15,277.61 L650.90,277.78 L651.65,277.94 L652.40,278.10 L653.15,278.25 L653.90,278.39 L654.65,278.53 L655.40,278.66 L656.15,278.78 L656.90,278.90 L657.65,279.01 L658.40,279.12 L659.15,279.23 L659.90,279.33 L660.65,279.42 L661.40,279.51 L662.15,279.59 L662.90,279.68" stroke="#e8202a" stroke-width="1.95" fill="none"/>
<path d="M437.90,271.37 L438.65,270.40 L439.40,269.37 L440.15,268.27 L440.90,267.11 L441.65,265.88 L442.40,264.59 L443.15,263.24 L443.90,261.84 L444.65,260.38 L445.40,258.88 L446.15,257.33 L446.90,255.74 L447.65,254.13 L448.40,252.49 L449.15,250.84 L449.90,249.18 L450.65,247.53 L451.40,245.89 L452.15,244.28 L452.90,242.70 L453.65,241.16 L454.40,239.68 L455.15,238.26 L455.90,236.93 L456.65,235.67 L457.40,234.52 L458.15,233.47 L458.90,232.53 L459.65,231.71 L460.40,231.03 L461.15,230.47 L461.90,230.05 L462.65,229.78 L463.40,229.65 L464.15,229.66 L464.90,229.82 L465.65,230.13 L466.40,230.57 L467.15,231.15 L467.90,231.87 L468.65,232.71 L469.40,233.67 L470.15,234.74 L470.90,235.92 L471.65,237.19 L472.40,238.54 L473.15,239.97 L473.90,241.46 L474.65,243.01 L475.40,244.60 L476.15,246.22 L476.90,247.86 L477.65,249.52 L478.40,251.17 L479.15,252.82 L479.90,254.45 L480.65,256.06 L481.40,257.64 L482.15,259.18 L482.90,260.68 L483.65,262.12 L484.40,263.52 L485.15,264.85 L485.90,266.13 L486.65,267.34 L487.40,268.49 L488.15,269.58 L488.90,270.60 L489.65,271.56 L490.40,272.45 L491.15,273.28 L491.90,274.05 L492.65,274.76 L493.40,275.41 L494.15,276.01 L494.90,276.56 L495.65,277.06 L496.40,277.51 L497.15,277.92 L497.90,278.29 L498.65,278.62 L499.40,278.92 L500.15,279.18 L500.90,279.42 L501.65,279.63 L502.40,279.81 L503.15,279.97 L503.90,280.12 L504.65,280.24 L505.40,280.35 L506.15,280.45 L506.90,280.53 L507.65,280.60 L508.40,280.66 L509.15,280.72 L509.90,280.76 L510.65,280.80 L511.40,280.83 L512.15,280.86 L512.90,280.88 L513.65,280.90 L514.40,280.92 L515.15,280.93 L515.90,280.95 L516.65,280.96 L517.40,280.96 L518.15,280.97 L518.90,280.98 L519.65,280.98 L520.40,280.98 L521.15,280.99 L521.90,280.99 L522.65,280.99 L523.40,280.99 L524.15,280.99 L524.90,281.00 L525.65,281.00 L526.40,281.00 L527.15,281.00 L527.90,281.00 L528.65,281.00 L529.40,281.00 L530.15,281.00 L530.90,281.00 L531.65,281.00 L532.40,281.00 L533.15,281.00 L533.90,281.00 L534.65,281.00 L535.40,281.00 L536.15,281.00 L536.90,281.00 L537.65,281.00 L538.40,281.00 L539.15,281.00 L539.90,281.00 L540.65,281.00 L541.40,281.00 L542.15,281.00 L542.90,281.00 L543.65,281.00 L544.40,281.00 L545.15,281.00 L545.90,281.00 L546.65,281.00 L547.40,281.00 L548.15,281.00 L548.90,281.00 L549.65,281.00 L550.40,281.00 L551.15,281.00 L551.90,281.00 L552.65,281.00 L553.40,281.00 L554.15,281.00 L554.90,281.00 L555.65,281.00 L556.40,281.00 L557.15,281.00 L557.90,281.00 L558.65,281.00 L559.40,281.00 L560.15,281.00 L560.90,281.00 L561.65,281.00 L562.40,281.00 L563.15,281.00 L563.90,281.00 L564.65,281.00 L565.40,281.00 L566.15,281.00 L566.90,281.00 L567.65,281.00 L568.40,281.00 L569.15,281.00 L569.90,281.00 L570.65,281.00 L571.40,281.00 L572.15,281.00 L572.90,281.00 L573.65,281.00 L574.40,281.00 L575.15,281.00 L575.90,281.00 L576.65,281.00 L577.40,281.00 L578.15,281.00 L578.90,281.00 L579.65,281.00 L580.40,281.00 L581.15,281.00 L581.90,281.00 L582.65,281.00 L583.40,281.00 L584.15,281.00 L584.90,281.00 L585.65,281.00 L586.40,281.00 L587.15,281.00 L587.90,281.00 L588.65,281.00 L589.40,281.00 L590.15,281.00 L590.90,281.00 L591.65,281.00 L592.40,281.00 L593.15,281.00 L593.90,281.00 L594.65,281.00 L595.40,281.00 L596.15,281.00 L596.90,281.00 L597.65,281.00 L598.40,281.00 L599.15,281.00 L599.90,281.00 L600.65,281.00 L601.40,281.00 L602.15,281.00 L602.90,281.00 L603.65,281.00 L604.40,281.00 L605.15,281.00 L605.90,281.00 L606.65,281.00 L607.40,281.00 L608.15,281.00 L608.90,281.00 L609.65,281.00 L610.40,281.00 L611.15,281.00 L611.90,281.00 L612.65,281.00 L613.40,281.00 L614.15,281.00 L614.90,281.00 L615.65,281.00 L616.40,281.00 L617.15,281.00 L617.90,281.00 L618.65,281.00 L619.40,281.00 L620.15,281.00 L620.90,281.00 L621.65,281.00 L622.40,281.00 L623.15,281.00 L623.90,281.00 L624.65,281.00 L625.40,281.00 L626.15,281.00 L626.90,281.00 L627.65,281.00 L628.40,281.00 L629.15,281.00 L629.90,281.00 L630.65,281.00 L631.40,281.00 L632.15,281.00 L632.90,281.00 L633.65,281.00 L634.40,281.00 L635.15,281.00 L635.90,281.00 L636.65,281.00 L637.40,281.00 L638.15,281.00 L638.90,281.00 L639.65,281.00 L640.40,281.00 L641.15,281.00 L641.90,281.00 L642.65,281.00 L643.40,281.00 L644.15,281.00 L644.90,281.00 L645.65,281.00 L646.40,281.00 L647.15,281.00 L647.90,281.00 L648.65,281.00 L649.40,281.00 L650.15,281.00 L650.90,281.00 L651.65,281.00 L652.40,281.00 L653.15,281.00 L653.90,281.00 L654.65,281.00 L655.40,281.00 L656.15,281.00 L656.90,281.00 L657.65,281.00 L658.40,281.00 L659.15,281.00 L659.90,281.00 L660.65,281.00 L661.40,281.00 L662.15,281.00 L662.90,281.00" stroke="#0b7a3b" stroke-width="1.95" fill="none"/>
<path d="M437.90,271.12 L438.65,270.12 L439.40,269.04 L440.15,267.90 L440.90,266.69 L441.65,265.40 L442.40,264.05 L443.15,262.63 L443.90,261.15 L444.65,259.61 L445.40,258.00 L446.15,256.34 L446.90,254.64 L447.65,252.89 L448.40,251.10 L449.15,249.28 L449.90,247.44 L450.65,245.58 L451.40,243.71 L452.15,241.85 L452.90,239.99 L453.65,238.15 L454.40,236.34 L455.15,234.56 L455.90,232.82 L456.65,231.13 L457.40,229.50 L458.15,227.93 L458.90,226.43 L459.65,225.01 L460.40,223.66 L461.15,222.38 L461.90,221.19 L462.65,220.08 L463.40,219.04 L464.15,218.08 L464.90,217.20 L465.65,216.38 L466.40,215.62 L467.15,214.92 L467.90,214.26 L468.65,213.64 L469.40,213.04 L470.15,212.45 L470.90,211.87 L471.65,211.28 L472.40,210.67 L473.15,210.01 L473.90,209.31 L474.65,208.55 L475.40,207.72 L476.15,206.79 L476.90,205.77 L477.65,204.64 L478.40,203.39 L479.15,202.01 L479.90,200.50 L480.65,198.84 L481.40,197.03 L482.15,195.07 L482.90,192.95 L483.65,190.67 L484.40,188.23 L485.15,185.64 L485.90,182.89 L486.65,179.99 L487.40,176.94 L488.15,173.75 L488.90,170.43 L489.65,166.98 L490.40,163.42 L491.15,159.76 L491.90,156.00 L492.65,152.17 L493.40,148.27 L494.15,144.32 L494.90,140.33 L495.65,136.32 L496.40,132.31 L497.15,128.31 L497.90,124.33 L498.65,120.40 L499.40,116.52 L500.15,112.72 L500.90,109.01 L501.65,105.40 L502.40,101.91 L503.15,98.56 L503.90,95.36 L504.65,92.31 L505.40,89.45 L506.15,86.76 L506.90,84.28 L507.65,82.00 L508.40,79.94 L509.15,78.10 L509.90,76.50 L510.65,75.13 L511.40,74.01 L512.15,73.13 L512.90,72.50 L513.65,72.13 L514.40,72.00 L515.15,72.13 L515.90,72.51 L516.65,73.13 L517.40,74.00 L518.15,75.11 L518.90,76.45 L519.65,78.01 L520.40,79.80 L521.15,81.79 L521.90,83.99 L522.65,86.38 L523.40,88.94 L524.15,91.68 L524.90,94.58 L525.65,97.62 L526.40,100.80 L527.15,104.09 L527.90,107.50 L528.65,111.00 L529.40,114.58 L530.15,118.23 L530.90,121.94 L531.65,125.69 L532.40,129.48 L533.15,133.28 L533.90,137.09 L534.65,140.89 L535.40,144.68 L536.15,148.44 L536.90,152.17 L537.65,155.85 L538.40,159.48 L539.15,163.04 L539.90,166.53 L540.65,169.95 L541.40,173.28 L542.15,176.53 L542.90,179.68 L543.65,182.73 L544.40,185.68 L545.15,188.53 L545.90,191.26 L546.65,193.89 L547.40,196.41 L548.15,198.82 L548.90,201.12 L549.65,203.31 L550.40,205.38 L551.15,207.35 L551.90,209.22 L552.65,210.98 L553.40,212.63 L554.15,214.19 L554.90,215.65 L555.65,217.02 L556.40,218.31 L557.15,219.50 L557.90,220.62 L558.65,221.65 L559.40,222.62 L560.15,223.51 L560.90,224.34 L561.65,225.11 L562.40,225.82 L563.15,226.48 L563.90,227.09 L564.65,227.65 L565.40,228.17 L566.15,228.66 L566.90,229.11 L567.65,229.53 L568.40,229.93 L569.15,230.30 L569.90,230.66 L570.65,230.99 L571.40,231.32 L572.15,231.63 L572.90,231.93 L573.65,232.22 L574.40,232.52 L575.15,232.80 L575.90,233.09 L576.65,233.38 L577.40,233.68 L578.15,233.97 L578.90,234.28 L579.65,234.59 L580.40,234.91 L581.15,235.24 L581.90,235.57 L582.65,235.92 L583.40,236.28 L584.15,236.65 L584.90,237.04 L585.65,237.43 L586.40,237.84 L587.15,238.26 L587.90,238.69 L588.65,239.14 L589.40,239.60 L590.15,240.07 L590.90,240.55 L591.65,241.05 L592.40,241.55 L593.15,242.07 L593.90,242.60 L594.65,243.14 L595.40,243.69 L596.15,244.25 L596.90,244.81 L597.65,245.39 L598.40,245.97 L599.15,246.56 L599.90,247.15 L600.65,247.76 L601.40,248.36 L602.15,248.98 L602.90,249.59 L603.65,250.21 L604.40,250.83 L605.15,251.45 L605.90,252.08 L606.65,252.70 L607.40,253.33 L608.15,253.96 L608.90,254.58 L609.65,255.20 L610.40,255.82 L611.15,256.44 L611.90,257.06 L612.65,257.67 L613.40,258.27 L614.15,258.87 L614.90,259.47 L615.65,260.06 L616.40,260.65 L617.15,261.23 L617.90,261.80 L618.65,262.36 L619.40,262.92 L620.15,263.47 L620.90,264.01 L621.65,264.54 L622.40,265.06 L623.15,265.58 L623.90,266.08 L624.65,266.58 L625.40,267.07 L626.15,267.54 L626.90,268.01 L627.65,268.47 L628.40,268.91 L629.15,269.35 L629.90,269.78 L630.65,270.19 L631.40,270.60 L632.15,271.00 L632.90,271.38 L633.65,271.76 L634.40,272.12 L635.15,272.48 L635.90,272.82 L636.65,273.16 L637.40,273.48 L638.15,273.80 L638.90,274.10 L639.65,274.40 L640.40,274.68 L641.15,274.96 L641.90,275.23 L642.65,275.49 L643.40,275.74 L644.15,275.98 L644.90,276.21 L645.65,276.43 L646.40,276.65 L647.15,276.86 L647.90,277.06 L648.65,277.25 L649.40,277.43 L650.15,277.61 L650.90,277.78 L651.65,277.94 L652.40,278.10 L653.15,278.25 L653.90,278.39 L654.65,278.53 L655.40,278.66 L656.15,278.78 L656.90,278.90 L657.65,279.01 L658.40,279.12 L659.15,279.23 L659.90,279.33 L660.65,279.42 L661.40,279.51 L662.15,279.59 L662.90,279.68" stroke="#141214" stroke-width="2.2" fill="none"/>
<text transform="translate(437.90,297.20) scale(1,1.02)" class="t" text-anchor="middle">0</text>
<text transform="translate(497.90,297.20) scale(1,1.02)" class="t" text-anchor="middle">400</text>
<text transform="translate(557.90,297.20) scale(1,1.02)" class="t" text-anchor="middle">800</text>
<text transform="translate(617.90,297.20) scale(1,1.02)" class="t" text-anchor="middle">1200</text>
<text transform="translate(670.90,297.20) scale(1,1.02)" class="t" text-anchor="middle">1600</text>
<text transform="translate(402.80,285.40) scale(1,1.04)" class="t" text-anchor="end">0.0</text>
<text transform="translate(402.80,231.56) scale(1,1.04)" class="t" text-anchor="end">0.5</text>
<text transform="translate(402.80,177.73) scale(1,1.04)" class="t" text-anchor="end">1.0</text>
<text transform="translate(402.80,123.90) scale(1,1.04)" class="t" text-anchor="end">1.5</text>
<text transform="translate(402.80,70.06) scale(1,1.04)" class="t" text-anchor="end">2.0</text>
<text transform="translate(402.80,16.23) scale(1,1.04)" class="t" text-anchor="end">2.5</text>
<text transform="translate(355.90,12.80) scale(1,1.04)" class="pl">(b)</text>
<text transform="translate(414.60,30.60) scale(1,1.04)" class="t">AIC = 1185057</text>
<path d="M536.40,25.7 H573.10" stroke="#2a4a9e" stroke-width="1.95"/>
<text transform="translate(579.80,30.70) scale(1,1.04)" class="t">Comp. 1 (0.646)</text>
<path d="M536.40,41.4 H573.10" stroke="#e8202a" stroke-width="1.95"/>
<text transform="translate(579.80,46.00) scale(1,1.04)" class="t">Comp. 2 (0.240)</text>
<path d="M536.40,57.1 H573.10" stroke="#0b7a3b" stroke-width="1.95"/>
<text transform="translate(579.80,60.60) scale(1,1.04)" class="t">Comp. 3 (0.114)</text>
<path d="M536.40,71.9 H573.10" stroke="#141214" stroke-width="2.2"/>
<text transform="translate(579.80,75.30) scale(1,1.04)" class="t">Mixed model</text>
<text transform="translate(460.50,321.00) scale(1,1.02)" class="ax" style="font-size:15.2px">Inter-arrival time (years)</text>
<text transform="translate(368.8,145.6) rotate(-90) scale(1,1.04)" text-anchor="middle" class="ax">Probability density (x10<tspan dy="-4.3" font-size="11">-3</tspan><tspan dy="4.3">)</tspan></text>
</svg>
</body></html>
